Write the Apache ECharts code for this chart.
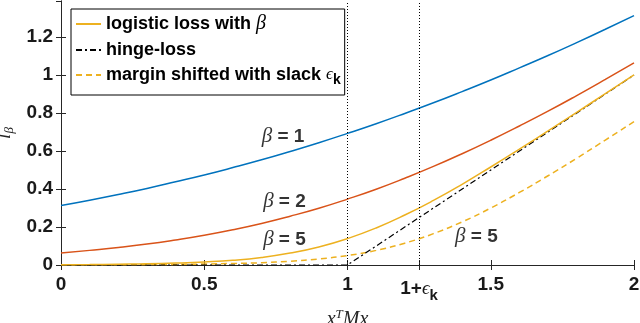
<!DOCTYPE html>
<html>
<head>
	<meta charset="UTF-8">
	<title>logistic loss</title>
	<script src="https://cdn.jsdelivr.net/npm/echarts@6.0.0/dist/echarts.min.js"></script>
	<style>
		html, body { margin: 0; padding: 0; background: #fff; }
		#main { width: 640px; height: 323px; }
	</style>
</head>
<body>
<div id="main"></div>
<script type="text/javascript">
	// x^T M x sample points
	var xs = [0, 0.1, 0.2, 0.3, 0.4, 0.5, 0.6, 0.7, 0.8, 0.9, 1.0, 1.1, 1.2, 1.3, 1.4, 1.5, 1.6, 1.7, 1.8, 1.9, 2.0];
	var beta1 = [0.313, 0.341, 0.371, 0.403, 0.438, 0.474, 0.513, 0.554, 0.598, 0.644, 0.693, 0.744, 0.798, 0.854, 0.913, 0.974, 1.038, 1.103, 1.171, 1.241, 1.313];
	var beta2 = [0.063, 0.077, 0.092, 0.110, 0.132, 0.157, 0.186, 0.219, 0.257, 0.299, 0.347, 0.399, 0.457, 0.519, 0.586, 0.657, 0.732, 0.810, 0.892, 0.977, 1.064];
	var beta5 = [0.001, 0.002, 0.004, 0.006, 0.010, 0.016, 0.025, 0.040, 0.063, 0.095, 0.139, 0.195, 0.263, 0.340, 0.425, 0.516, 0.610, 0.706, 0.804, 0.902, 1.001];
	var shifted = [0, 0.001, 0.001, 0.002, 0.003, 0.005, 0.008, 0.012, 0.020, 0.032, 0.050, 0.077, 0.115, 0.165, 0.227, 0.300, 0.382, 0.470, 0.562, 0.658, 0.755];
	var hingeX = [0, 1, 2];
	var hingeY = [0, 0, 1];
	var marginLines = [1, 1.25];
	var xTicks = [0, 0.5, 1, 1.25, 1.5, 2];
	var xTickLabels = ['0', '0.5', '1', '1+{eps|ϵ}{sub|k}', '1.5', '2'];
	var annotX = [0.775, 0.78, 0.78, 1.45];
	var annotY = [0.677, 0.333, 0.132, 0.148];
	var annotText = ['1', '2', '5', '5'];

	function pairs(x, y) {
		return x.map(function (v, i) { return [v, y[i]]; });
	}

	var axisColor = '#262626';
	var sans = 'Liberation Sans, Arial, sans-serif';
	var serif = 'Liberation Serif, DejaVu Serif, serif';

	var myChart = echarts.init(document.getElementById('main'));

	var option = {
		animation: false,
		grid: { left: 61, right: 6, top: 1, bottom: 58, outerBoundsMode: 'none', containLabel: false },
		legend: {
			orient: 'vertical',
			left: 71,
			top: 9,
			padding: [5, 4, 8, 4],
			itemGap: 7,
			itemWidth: 25,
			itemHeight: 14,
			backgroundColor: '#fff',
			borderColor: '#000',
			borderWidth: 1,
			borderRadius: 0,
			itemStyle: { color: 'rgba(0,0,0,0)', borderWidth: 0, opacity: 0 },
			data: ['logistic', 'hinge', 'shifted'],
			formatter: function (name) {
				if (name === 'logistic') return 'logistic loss with {b|β}';
				if (name === 'hinge') return 'hinge-loss';
				return 'margin shifted with slack {eps|ϵ}{sub|k}';
			},
			textStyle: {
				fontFamily: sans, fontWeight: 'bold', fontSize: 18, color: '#000',
				rich: {
					b: { fontFamily: serif, fontStyle: 'italic', fontWeight: 'normal', fontSize: 20, color: '#000' },
					eps: { fontFamily: serif, fontStyle: 'italic', fontWeight: 'normal', fontSize: 17, color: '#000' },
					sub: { fontFamily: sans, fontWeight: 'bold', fontSize: 14, color: '#000', padding: [10, 0, 0, 0] }
				}
			}
		},
		xAxis: [{
			type: 'value',
			min: 0, max: 2,
			position: 'bottom',
			splitLine: { show: false },
			axisLine: { lineStyle: { color: axisColor, width: 1 } },
			axisTick: { inside: true, length: 5, customValues: xTicks, lineStyle: { color: axisColor } },
			axisLabel: {
				customValues: xTicks,
				margin: 10,
				fontFamily: sans, fontWeight: 'bold', fontSize: 19, color: '#1a1a1a',
				formatter: function (v) {
					var i = xTicks.indexOf(v);
					return i >= 0 ? xTickLabels[i] : '';
				},
				rich: {
					eps: { fontFamily: serif, fontStyle: 'italic', fontWeight: 'normal', fontSize: 19, color: '#1a1a1a' },
					sub: { fontFamily: sans, fontWeight: 'bold', fontSize: 15, color: '#1a1a1a', padding: [13, 0, 0, 0] }
				}
			},
			name: '{i|x}{sup|T}{i|Mx}',
			nameLocation: 'middle',
			nameGap: 40,
			nameTextStyle: {
				rich: {
					i: { fontFamily: serif, fontStyle: 'italic', fontSize: 20, color: axisColor },
					sup: { fontFamily: serif, fontStyle: 'italic', fontSize: 13, color: axisColor, padding: [0, 0, 10, 0] }
				}
			}
		}, {
			type: 'value',
			min: 0, max: 2,
			position: 'top',
			splitLine: { show: false },
			axisLine: { lineStyle: { color: axisColor, width: 1 } },
			axisTick: { inside: true, length: 5, customValues: xTicks, lineStyle: { color: axisColor } },
			axisLabel: { show: false }
		}],
		yAxis: [{
			type: 'value',
			min: 0, max: 1.39,
			interval: 0.2,
			position: 'left',
			splitLine: { show: false },
			axisLine: { show: true, lineStyle: { color: axisColor, width: 1 } },
			axisTick: { show: true, inside: true, length: 5, lineStyle: { color: axisColor } },
			axisLabel: {
				showMaxLabel: false,
				margin: 8,
				fontFamily: sans, fontWeight: 'bold', fontSize: 19, color: '#1a1a1a'
			},
			name: '{l|l}{s|β}',
			nameLocation: 'middle',
			nameGap: 39,
			nameTextStyle: {
				rich: {
					l: { fontFamily: serif, fontStyle: 'italic', fontSize: 19, color: axisColor },
					s: { fontFamily: serif, fontStyle: 'italic', fontSize: 13, color: axisColor, padding: [8, 0, 0, 0] }
				}
			}
		}, {
			type: 'value',
			min: 0, max: 1.39,
			interval: 0.2,
			position: 'right',
			splitLine: { show: false },
			axisLine: { show: true, lineStyle: { color: axisColor, width: 1 } },
			axisTick: { show: true, inside: true, length: 5, lineStyle: { color: axisColor } },
			axisLabel: { show: false }
		}],
		series: [
			{
				name: 'beta1', type: 'line', symbol: 'none', smooth: true,
				lineStyle: { color: '#0072BD', width: 1.5 }, itemStyle: { color: '#0072BD' },
				data: pairs(xs, beta1)
			},
			{
				name: 'beta2', type: 'line', symbol: 'none', smooth: true,
				lineStyle: { color: '#D95319', width: 1.5 }, itemStyle: { color: '#D95319' },
				data: pairs(xs, beta2)
			},
			{
				name: 'shifted', type: 'line', symbol: 'none', smooth: true,
				lineStyle: { color: '#EDB120', width: 1.5, type: [6, 4] }, itemStyle: { color: '#EDB120' },
				data: pairs(xs, shifted)
			},
			{
				name: 'hinge', type: 'line', symbol: 'none',
				lineStyle: { color: '#000', width: 1.2, type: [6, 3, 2, 3] }, itemStyle: { color: '#000' },
				data: pairs(hingeX, hingeY),
				markLine: {
					silent: true,
					symbol: ['none', 'none'],
					label: { show: false },
					lineStyle: { color: '#000', width: 1, type: [1, 2] },
					data: marginLines.map(function (v) { return { xAxis: v }; })
				}
			},
			{
				name: 'logistic', type: 'line', symbol: 'none', smooth: true,
				lineStyle: { color: '#EDB120', width: 1.5 }, itemStyle: { color: '#EDB120' },
				data: pairs(xs, beta5)
			},
			{
				name: 'annot', type: 'scatter', symbolSize: 0, silent: true,
				data: annotX.map(function (v, i) { return [v, annotY[i], annotText[i]]; }),
				label: {
					show: true,
					position: 'inside',
					formatter: function (p) { return '{b|β}{t| = ' + p.data[2] + '}'; },
					rich: {
						b: { fontFamily: serif, fontStyle: 'italic', fontWeight: 'normal', fontSize: 21, color: '#000' },
						t: { fontFamily: sans, fontWeight: 'bold', fontSize: 19, color: '#000' }
					}
				}
			}
		]
	};
	myChart.setOption(option);
</script>
</body>
</html>
